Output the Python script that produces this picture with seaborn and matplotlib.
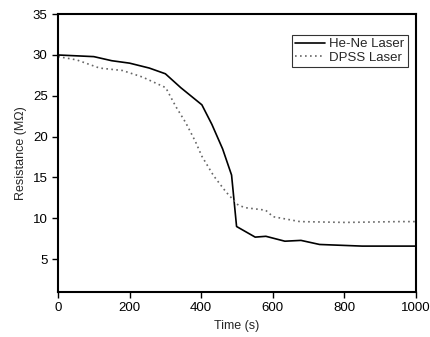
import pandas as pd
import matplotlib
matplotlib.use("Agg")
import matplotlib.pyplot as plt
import seaborn as sns

# data
hene_time = [0, 100, 150, 200, 255, 300, 343, 402, 430, 460, 485, 499, 551, 581, 634, 679, 731, 850, 1000]
hene_res = [30.0, 29.8, 29.3, 29.0, 28.4, 27.7, 26.0, 23.9, 21.5, 18.5, 15.3, 9.0, 7.7, 7.8, 7.2, 7.3, 6.8, 6.6, 6.6]

dpss_time = [0, 52, 116, 180, 236, 301, 329, 357, 384, 402, 435, 470, 504, 524, 580, 601, 676, 803, 953, 1000]
dpss_res = [29.8, 29.4, 28.4, 28.1, 27.3, 26.0, 23.7, 21.7, 19.4, 17.6, 15.2, 13.2, 11.6, 11.3, 11.0, 10.2, 9.6, 9.5, 9.6, 9.6]

df = pd.concat([
    pd.DataFrame({"Time": hene_time, "Resistance": hene_res, "Laser": "He-Ne Laser"}),
    pd.DataFrame({"Time": dpss_time, "Resistance": dpss_res, "Laser": "DPSS Laser"}),
])

sns.set_style("ticks")
plt.rcParams['font.family'] = ['Liberation Sans', 'DejaVu Sans']

fig = plt.figure(figsize=(4.3, 3.37), dpi=100)
ax = fig.add_axes([0.135, 0.134, 0.832, 0.824])

sns.lineplot(data=df, x="Time", y="Resistance", hue="Laser", style="Laser",
             palette={"He-Ne Laser": "black", "DPSS Laser": "#666666"},
             dashes={"He-Ne Laser": "", "DPSS Laser": (1, 2)},
             linewidth=1.2, ax=ax)

ax.set_xlim(0, 1000)
ax.set_ylim(1, 35)
ax.set_xticks([0, 200, 400, 600, 800, 1000])
ax.set_yticks([5, 10, 15, 20, 25, 30, 35])
ax.set_xlabel("Time (s)", fontsize=9)
ax.set_ylabel("Resistance (MΩ)", fontsize=9)
ax.tick_params(labelsize=9.5, width=1, length=4, direction='out', colors='black')
for s in ax.spines.values():
    s.set_linewidth(1.5)
    s.set_color('black')

leg = ax.legend(title=None, loc='upper right', fontsize=9.5, frameon=True, fancybox=False,
                edgecolor='black', handlelength=2.3, borderpad=0.25, labelspacing=0.1,
                handletextpad=0.3, borderaxespad=0.2, bbox_to_anchor=(0.985, 0.935))
leg.get_frame().set_linewidth(0.8)

plt.savefig("out.png", dpi=100)
